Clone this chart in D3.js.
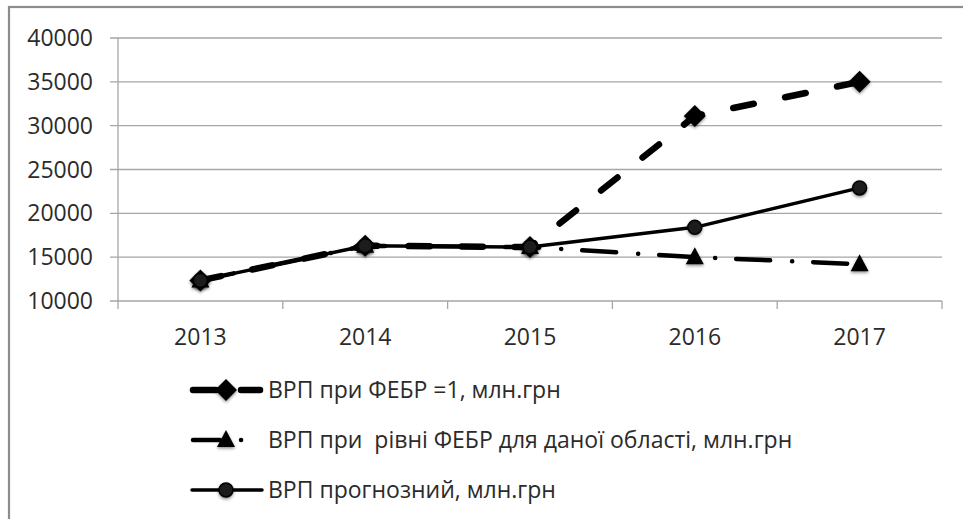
<!DOCTYPE html>
<html lang="uk">
  <head>
    <meta charset="UTF-8" />
    <title>ВРП</title>
    <style>
      body {
        margin: 0;
        background: #fff;
        font-family: "Open Sans", "Noto Sans", sans-serif;
        color: #2b2b2b;
      }
      svg text {
        fill: #2b2b2b;
        font-size: 23px;
        white-space: pre;
      }
      .grid line {
        stroke: #a6a6a6;
        stroke-width: 1.3;
      }
    </style>
  </head>
  <body>
    <svg width="963" height="519"></svg>
  </body>
  <script src="https://cdn.jsdelivr.net/npm/d3@7"></script>
  <script>
    let years = ["2013", "2014", "2015", "2016", "2017"];
    let yTicks = [10000, 15000, 20000, 25000, 30000, 35000, 40000];

    let febrOne = [12350, 16300, 16150, 31100, 35000];
    let febrRegion = [12350, 16300, 16150, 15000, 14200];
    let forecast = [12350, 16300, 16150, 18400, 22900];

    let seriesNames = [
      "ВРП при ФЕБР =1, млн.грн",
      "ВРП при  рівні ФЕБР для даної області, млн.грн",
      "ВРП прогнозний, млн.грн",
    ];

    let series = [
      { name: seriesNames[0], values: febrOne, width: 6.5, dash: "21,32", marker: "diamond" },
      { name: seriesNames[1], values: febrRegion, width: 4.5, dash: "34,22,0.1,21", marker: "triangle" },
      { name: seriesNames[2], values: forecast, width: 3.5, dash: null, marker: "circle" },
    ];

    let margin = { left: 118, right: 21, top: 38, bottom: 218 };
    let svg = d3.select("svg");
    let width = 963 - margin.left - margin.right;
    let height = 519 - margin.top - margin.bottom;

    // outer frame of the chart area (runs off the right and bottom edges)
    svg.append("rect")
      .attr("x", 9).attr("y", 7)
      .attr("width", 980).attr("height", 540)
      .attr("fill", "none")
      .attr("stroke", "#8c8c8c")
      .attr("stroke-width", 2.2);

    let defs = svg.append("defs");
    let f = defs.append("filter").attr("id", "shadow")
      .attr("x", "-50%").attr("y", "-50%").attr("width", "200%").attr("height", "200%");
    f.append("feDropShadow")
      .attr("dx", 0).attr("dy", 1.5)
      .attr("stdDeviation", 1.8)
      .attr("flood-color", "#000")
      .attr("flood-opacity", 0.45);

    let g = svg.append("g").attr("transform", `translate(${margin.left},${margin.top})`);

    let x = d3.scaleBand().domain(years).range([0, width]);
    let y = d3.scaleLinear().domain([10000, 40000]).range([height, 0]);

    // horizontal grid lines with short ticks to the left
    g.append("g").attr("class", "grid")
      .selectAll("line")
      .data(yTicks)
      .join("line")
      .attr("x1", -8).attr("x2", width)
      .attr("y1", (d) => y(d)).attr("y2", (d) => y(d));

    // vertical axis line
    g.append("line")
      .attr("x1", 0).attr("x2", 0).attr("y1", 0).attr("y2", height)
      .attr("stroke", "#a6a6a6").attr("stroke-width", 1.3);

    // category boundary ticks on x axis
    let bounds = years.map((d) => x(d)).concat([width]);
    g.append("g").attr("class", "grid")
      .selectAll("line")
      .data(bounds)
      .join("line")
      .attr("x1", (d) => d).attr("x2", (d) => d)
      .attr("y1", height).attr("y2", height + 8);

    g.append("g")
      .selectAll("text")
      .data(yTicks)
      .join("text")
      .attr("x", -25)
      .attr("y", (d) => y(d))
      .attr("dy", "0.35em")
      .attr("text-anchor", "end")
      .text((d) => d);

    g.append("g")
      .selectAll("text")
      .data(years)
      .join("text")
      .attr("x", (d) => x(d) + x.bandwidth() / 2)
      .attr("y", height + 44)
      .attr("text-anchor", "middle")
      .text((d) => d);

    let line = d3.line()
      .x((d, i) => x(years[i]) + x.bandwidth() / 2)
      .y((d) => y(d));

    function marker(sel, type) {
      if (type === "diamond") {
        sel.append("path")
          .attr("d", "M0,-11L11,0L0,11L-11,0Z")
          .attr("fill", "#000");
      } else if (type === "triangle") {
        sel.append("path")
          .attr("d", "M0,-10L9,7L-9,7Z")
          .attr("fill", "#000");
      } else {
        sel.append("circle")
          .attr("r", 7)
          .attr("fill", "#1a1a1a")
          .attr("stroke", "#000")
          .attr("stroke-width", 1.5);
      }
    }

    series.forEach((s) => {
      g.append("path")
        .datum(s.values)
        .attr("d", line)
        .attr("fill", "none")
        .attr("stroke", "#000")
        .attr("stroke-width", s.width)
        .attr("stroke-linecap", "round")
        .attr("stroke-linejoin", "round")
        .attr("stroke-dasharray", s.dash);
      s.values.forEach((v, i) => {
        let m = g.append("g")
          .attr("transform", `translate(${x(years[i]) + x.bandwidth() / 2},${y(v)})`)
          .attr("filter", "url(#shadow)");
        marker(m, s.marker);
      });
    });

    // legend
    let legend = svg.append("g").attr("transform", "translate(190,390)");
    series.forEach((s, i) => {
      let row = legend.append("g").attr("transform", `translate(0,${i * 50})`);
      if (s.marker === "diamond") {
        row.append("line").attr("x1", 3).attr("x2", 26);
        row.append("line").attr("x1", 51).attr("x2", 70);
      } else if (s.marker === "triangle") {
        row.append("line").attr("x1", 3).attr("x2", 30);
        row.append("line").attr("x1", 51).attr("x2", 51.1);
      } else {
        row.append("line").attr("x1", 2).attr("x2", 72);
      }
      row.selectAll("line")
        .attr("y1", 0).attr("y2", 0)
        .attr("stroke", "#000")
        .attr("stroke-width", s.width)
        .attr("stroke-linecap", "round");
      let m = row.append("g").attr("transform", "translate(36,0)").attr("filter", "url(#shadow)");
      marker(m, s.marker);
      row.append("text")
        .attr("x", 78)
        .attr("dy", "0.35em")
        .text(s.name);
    });
  </script>
</html>
